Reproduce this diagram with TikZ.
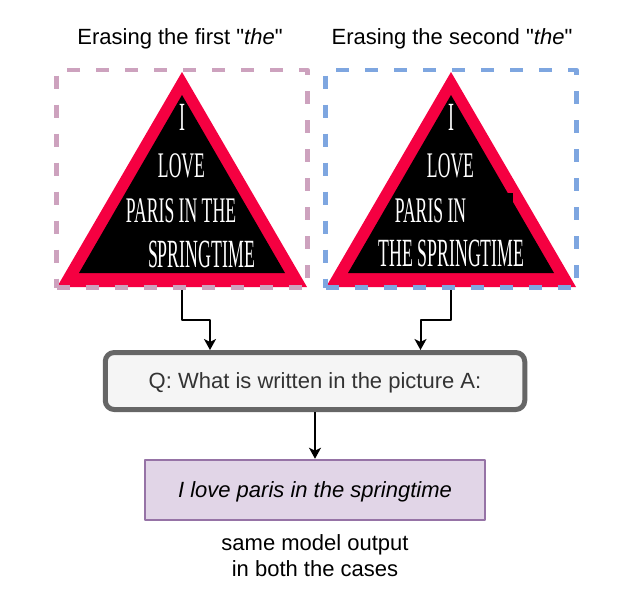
\documentclass[tikz,border=0pt]{standalone}
\usepackage{fontspec}
\setmainfont{Liberation Sans}
\newfontfamily\signfont{Liberation Serif}
\usepackage{graphicx}
\usetikzlibrary{arrows.meta}
\definecolor{signred}{RGB}{245,0,65}
\definecolor{pinkdash}{RGB}{205,162,190}
\definecolor{bluedash}{RGB}{126,166,224}
\definecolor{qline}{RGB}{102,102,102}
\definecolor{qfill}{RGB}{245,245,245}
\definecolor{qtext}{RGB}{51,51,51}
\definecolor{outline}{RGB}{150,115,166}
\definecolor{outfill}{RGB}{225,213,231}
% condensed lettering on the signs
\newcommand\signbig[1]{\scalebox{0.445}[1]{\signfont\fontsize{40}{40}\selectfont #1}}
\newcommand\signsmall[1]{\scalebox{0.49}[1]{\signfont\fontsize{36}{36}\selectfont #1}}
\tikzset{
  dashframe/.style={draw=#1, line width=4.5pt, dash pattern=on 13pt off 16pt, minimum width=251pt, minimum height=217.5pt, inner sep=0pt},
  signtext/.style={text=white, anchor=base, inner sep=0pt},
}
\begin{document}
\begin{tikzpicture}[x=1pt, y=-1pt, font=\fontsize{22}{26}\selectfont, line join=round, >={Stealth[length=11pt,width=12pt,inset=3pt]}]
	\useasboundingbox (0,0) rectangle (633,603);
	\node[anchor=base] (lefttitle) at (180,44) {Erasing the first \textquotedbl\textit{the}\textquotedbl};
	\node[anchor=base] (righttitle) at (452,44) {Erasing the second \textquotedbl\textit{the}\textquotedbl};
	% the two signs
	\foreach \cx in {182,451} {
		\fill[signred] (\cx,72) -- (\cx+125,287) -- (\cx-125,287) -- cycle;
		\fill[black] (\cx,95) -- (\cx+103,273) -- (\cx-103,273) -- cycle;
	}
	\fill[black] (466,193) rectangle (513,222);
	\node[signtext] (li) at (182,130) {\signbig{I}};
	\node[signtext] (llove) at (181.5,177) {\signsmall{LOVE}};
	\node[signtext] (lparis) at (181,222) {\signsmall{PARIS IN THE}};
	\node[signtext] (lspring) at (201.5,267) {\signbig{SPRINGTIME}};
	\node[signtext] (ri) at (451,130) {\signbig{I}};
	\node[signtext] (rlove) at (450.5,177) {\signsmall{LOVE}};
	\node[signtext] (rparis) at (430.5,222) {\signsmall{PARIS IN}};
	\node[signtext] (rspring) at (451.5,266) {\signbig{THE SPRINGTIME}};
	\node[dashframe=pinkdash] (left) at (182,178.75) {};
	\node[dashframe=bluedash] (right) at (451,178.75) {};
	% question and answer
	\node[draw=qline, fill=qfill, text=qtext, line width=5pt, rounded corners=9pt, minimum width=419.5pt, minimum height=57pt, text height=15.75pt, text depth=0pt, inner sep=0pt] (q) at (315,381) {Q: What is written in the picture A:};
	\node[draw=outline, fill=outfill, line width=2.5pt, minimum width=340pt, minimum height=60pt, text height=15.75pt, text depth=0pt, inner sep=0pt] (out) at (315,490) {\textit{I love paris in the springtime}};
	\node[align=center, inner sep=0pt] (note) at (315,555.5) {same model output\\in both the cases};
	\draw[->, line width=2pt] (left.south) -- ++(0,30) -| ([xshift=-105pt]q.north);
	\draw[->, line width=2pt] (right.south) -- ++(0,30) -| ([xshift=105.5pt]q.north);
	\draw[->, line width=2pt] (q.south) -- (out.north);
\end{tikzpicture}
\end{document}
